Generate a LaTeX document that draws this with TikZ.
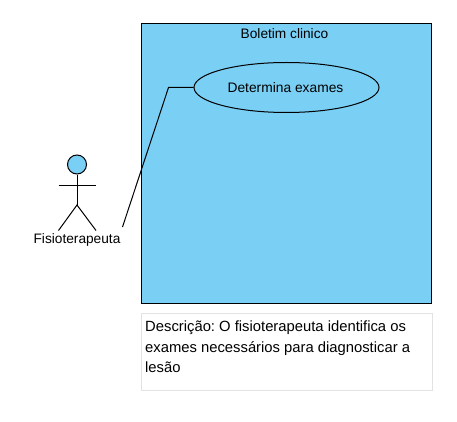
\documentclass[tikz,border=0pt]{standalone}
\usepackage{fontspec}
\setmainfont{Liberation Sans}
\definecolor{ucblue}{HTML}{7ACFF5}
\definecolor{notegrey}{HTML}{E2E2E2}
\tikzset{
  ln/.style={draw=black,line width=1pt},
  framebox/.style={ln,fill=ucblue,rectangle,inner sep=0pt,minimum width=290pt,minimum height=279.5pt},
  usecase/.style={ln,fill=ucblue,ellipse,inner sep=0pt,minimum width=185pt,minimum height=50pt,font=\fontsize{13.8}{15}\selectfont},
  lbl/.style={inner sep=0pt,font=\fontsize{13.7}{15}\selectfont},
  notebox/.style={draw=notegrey,line width=1pt,fill=white,rectangle,inner sep=0pt,minimum width=290.5pt,minimum height=77pt},
  notetxt/.style={inner sep=0pt,anchor=north west,align=left,font=\frenchspacing\fontsize{14.8}{20.5}\selectfont}
}
\usetikzlibrary{shapes.geometric}
\begin{document}
\begin{tikzpicture}[x=1pt,y=-1pt]
\useasboundingbox (0,0) rectangle (457,422);
\fill[white] (0,0) rectangle (457,422);
\node[framebox] (frame) at (286.5,163.25) {};
\node[lbl] (title) at (284.5,34) {Boletim clinico};
\node[usecase] (uc) at (286.5,87.5) {Determina exames\hspace*{2pt}};
\node[ln,fill=ucblue,circle,inner sep=0pt,minimum size=19pt] (head) at (77,164.5) {};
\coordinate (hip) at (77,205);
\coordinate (larm) at (58.5,185);
\coordinate (rarm) at (96,185);
\coordinate (lfoot) at (58.5,230.5);
\coordinate (rfoot) at (96,230.5);
\draw[ln] (head.south) -- (hip);
\draw[ln] (larm) -- (rarm);
\draw[ln] (lfoot) -- (hip) -- (rfoot);
\node[lbl] (actor) at (77,240) {Fisioterapeuta};
\coordinate (actorend) at (122.5,227);
\coordinate (bend) at (168.5,87.5);
\draw[ln] (actorend) -- (bend) -- (uc.west);
\node[notebox] (note) at (286.75,352) {};
\node[notetxt] (notetext) at (145,321) {Descrição: O fisioterapeuta identifica os\\exames necessários para diagnosticar a\\lesão};
\end{tikzpicture}
\end{document}
